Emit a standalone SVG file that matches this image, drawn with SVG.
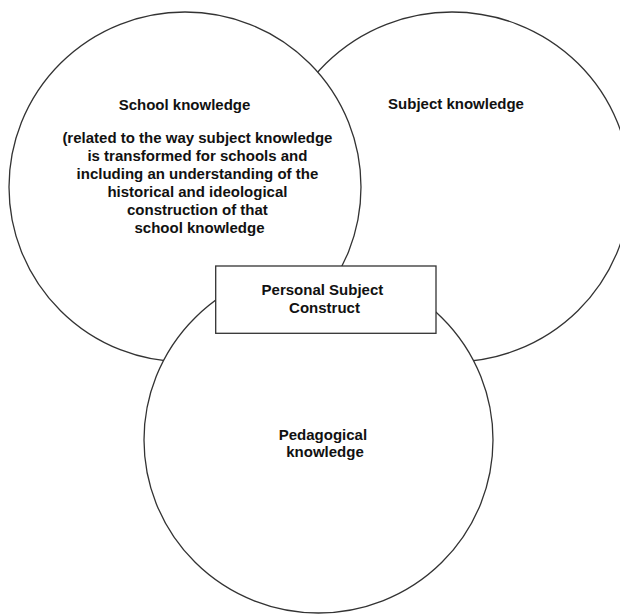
<svg xmlns="http://www.w3.org/2000/svg" width="620" height="615" viewBox="0 0 620 615">
  <style>
    .shape { fill: #ffffff; stroke: #333333; stroke-width: 1.3; }
    .lbl { font-family: "Liberation Sans", Arial, sans-serif; font-size: 15px; font-weight: bold; fill: #111111; text-anchor: middle; }
  </style>
  <rect width="620" height="615" fill="#ffffff"/>
  <g id="subject-knowledge">
    <ellipse class="shape" cx="452" cy="187" rx="178" ry="175"/>
    <text class="lbl" x="456" y="108.5">Subject knowledge</text>
  </g>
  <g id="school-knowledge">
    <ellipse class="shape" cx="185" cy="187" rx="176" ry="175"/>
    <text class="lbl" x="184.5" y="110">School knowledge</text>
    <text class="lbl">
      <tspan x="199.5" y="143">(related to the way subject knowledge</tspan>
      <tspan x="199.5" y="161">is transformed for schools and</tspan>
      <tspan x="199.5" y="179">including an understanding of the</tspan>
      <tspan x="199.5" y="197">historical and ideological</tspan>
      <tspan x="199.5" y="215">construction of that</tspan>
      <tspan x="199.5" y="233">school knowledge</tspan>
    </text>
  </g>
  <g id="pedagogical-knowledge">
    <ellipse class="shape" cx="318.5" cy="440" rx="174.5" ry="173"/>
    <text class="lbl">
      <tspan x="325" y="439.5">Pedagogical</tspan>
      <tspan x="325" y="457">knowledge</tspan>
    </text>
  </g>
  <g id="personal-subject-construct">
    <rect class="shape" x="215.7" y="266" width="220.3" height="67.3"/>
    <text class="lbl">
      <tspan x="324.5" y="295">Personal Subject</tspan>
      <tspan x="324.5" y="312.7">Construct</tspan>
    </text>
  </g>
  <g id="connectors"/>
</svg>
